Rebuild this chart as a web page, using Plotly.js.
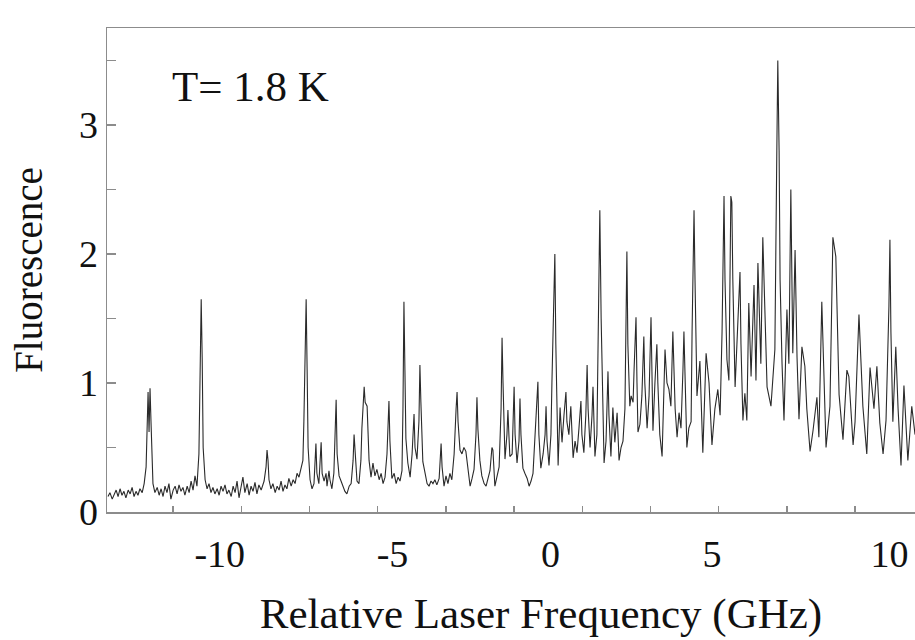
<!DOCTYPE html>
<html>
<head>
<meta charset="utf-8">
<script src="https://cdn.plot.ly/plotly-3.0.1.min.js"></script>
<style>
  html, body { margin: 0; padding: 0; background: #ffffff; overflow: hidden; }
  #chart { width: 975px; height: 640px; }
</style>
</head>
<body>
<div id="chart"></div>
<script>
// Relative laser frequency (GHz)
const freq = [
  -13.53,-13.47,-13.40,-13.34,-13.28,-13.22,-13.16,-13.10,-13.04,-12.98,
  -12.91,-12.85,-12.79,-12.73,-12.67,-12.61,-12.55,-12.48,-12.42,-12.36,
  -12.33,-12.30,-12.27,-12.24,-12.21,-12.18,-12.15,-12.09,-12.02,-11.96,
  -11.90,-11.84,-11.78,-11.72,-11.66,-11.60,-11.53,-11.47,-11.41,-11.35,
  -11.29,-11.23,-11.17,-11.10,-11.04,-10.98,-10.92,-10.86,-10.80,-10.74,
  -10.71,-10.67,-10.64,-10.61,-10.55,-10.49,-10.43,-10.37,-10.31,-10.25,
  -10.18,-10.12,-10.06,-10.00,-9.94,-9.88,-9.82,-9.75,-9.69,-9.63,
  -9.57,-9.51,-9.45,-9.39,-9.33,-9.26,-9.20,-9.14,-9.08,-9.02,
  -8.96,-8.90,-8.83,-8.74,-8.68,-8.65,-8.62,-8.59,-8.53,-8.47,
  -8.40,-8.34,-8.28,-8.22,-8.16,-8.10,-8.04,-7.98,-7.91,-7.85,
  -7.79,-7.73,-7.67,-7.61,-7.55,-7.52,-7.48,-7.45,-7.42,-7.39,
  -7.33,-7.27,-7.21,-7.15,-7.12,-7.06,-6.99,-6.96,-6.90,-6.84,
  -6.81,-6.75,-6.72,-6.66,-6.60,-6.53,-6.50,-6.44,-6.38,-6.32,
  -6.26,-6.20,-6.13,-6.07,-6.01,-5.98,-5.95,-5.89,-5.83,-5.77,
  -5.74,-5.67,-5.64,-5.58,-5.52,-5.46,-5.40,-5.34,-5.28,-5.21,
  -5.15,-5.09,-5.03,-4.97,-4.91,-4.88,-4.82,-4.75,-4.69,-4.63,
  -4.57,-4.51,-4.48,-4.45,-4.42,-4.39,-4.33,-4.26,-4.20,-4.14,
  -4.11,-4.05,-3.99,-3.96,-3.93,-3.87,-3.80,-3.74,-3.68,-3.62,
  -3.56,-3.50,-3.44,-3.37,-3.31,-3.28,-3.22,-3.16,-3.10,-3.04,
  -2.98,-2.91,-2.85,-2.82,-2.79,-2.73,-2.67,-2.61,-2.55,-2.48,
  -2.42,-2.36,-2.30,-2.24,-2.21,-2.18,-2.12,-2.06,-1.99,-1.93,
  -1.87,-1.81,-1.75,-1.72,-1.66,-1.60,-1.53,-1.47,-1.44,-1.41,
  -1.35,-1.29,-1.26,-1.23,-1.20,-1.13,-1.07,-1.04,-0.98,-0.92,
  -0.89,-0.86,-0.80,-0.74,-0.67,-0.61,-0.55,-0.49,-0.43,-0.37,
  -0.34,-0.31,-0.25,-0.18,-0.12,-0.09,-0.06,0.00,0.06,0.09,
  0.12,0.18,0.21,0.25,0.28,0.34,0.40,0.46,0.52,0.55,
  0.61,0.67,0.74,0.80,0.86,0.92,0.98,1.01,1.07,1.13,
  1.17,1.20,1.26,1.32,1.35,1.38,1.41,1.47,1.50,1.53,
  1.56,1.60,1.66,1.69,1.75,1.81,1.84,1.90,1.96,2.02,
  2.09,2.15,2.21,2.27,2.33,2.36,2.39,2.42,2.48,2.52,
  2.58,2.61,2.67,2.70,2.73,2.79,2.85,2.91,2.94,3.01,
  3.07,3.13,3.16,3.19,3.25,3.31,3.34,3.40,3.47,3.53,
  3.56,3.62,3.68,3.74,3.80,3.87,3.93,3.99,4.05,4.11,
  4.14,4.20,4.23,4.29,4.36,4.39,4.42,4.45,4.48,4.54,
  4.63,4.72,4.82,4.91,5.00,5.09,5.18,5.25,5.31,5.34,
  5.37,5.40,5.46,5.52,5.55,5.58,5.61,5.64,5.71,5.77,
  5.86,5.89,5.95,6.01,6.07,6.13,6.20,6.29,6.35,6.41,
  6.50,6.56,6.63,6.69,6.81,6.93,6.99,7.02,7.06,7.09,
  7.15,7.21,7.30,7.36,7.42,7.48,7.55,7.61,7.67,7.76,
  7.85,7.91,8.01,8.10,8.22,8.28,8.37,8.50,8.62,8.71,
  8.80,8.90,9.02,9.14,9.20,9.33,9.39,9.51,9.63,9.75,
  9.85,9.97,10.06,10.15,10.25,10.34,10.43,10.46,10.49,10.55,
  10.64,10.71,10.80,10.89,11.01,11.13,11.23
];
// Fluorescence (arb. units)
const fluor = [
  0.12,0.15,0.10,0.14,0.17,0.12,0.18,0.13,0.16,0.11,
  0.17,0.14,0.19,0.12,0.16,0.13,0.18,0.15,0.22,0.35,
  0.65,0.93,0.62,0.96,0.70,0.35,0.22,0.15,0.19,0.13,
  0.18,0.12,0.20,0.15,0.22,0.10,0.17,0.20,0.14,0.21,
  0.16,0.19,0.13,0.20,0.15,0.24,0.17,0.28,0.20,0.45,
  1.10,1.65,1.20,0.50,0.25,0.18,0.22,0.15,0.19,0.14,
  0.18,0.13,0.20,0.16,0.21,0.14,0.17,0.12,0.20,0.15,
  0.24,0.11,0.19,0.27,0.15,0.22,0.13,0.20,0.16,0.23,
  0.14,0.21,0.17,0.24,0.35,0.48,0.40,0.25,0.18,0.22,
  0.15,0.20,0.17,0.24,0.16,0.21,0.18,0.26,0.20,0.25,
  0.22,0.30,0.27,0.33,0.40,0.70,1.30,1.65,1.10,0.50,
  0.25,0.18,0.22,0.53,0.30,0.22,0.54,0.30,0.24,0.30,
  0.20,0.32,0.25,0.18,0.30,0.87,0.45,0.28,0.24,0.19,
  0.16,0.14,0.20,0.22,0.40,0.60,0.45,0.24,0.22,0.40,
  0.65,0.97,0.85,0.82,0.40,0.27,0.38,0.28,0.33,0.25,
  0.30,0.22,0.27,0.45,0.86,0.55,0.26,0.30,0.22,0.27,
  0.24,0.32,0.80,1.63,1.10,0.57,0.38,0.27,0.45,0.76,
  0.50,0.41,0.70,1.14,0.85,0.39,0.30,0.22,0.20,0.24,
  0.22,0.25,0.21,0.26,0.53,0.35,0.20,0.28,0.22,0.30,
  0.25,0.45,0.80,0.93,0.70,0.48,0.45,0.50,0.47,0.30,
  0.20,0.26,0.33,0.60,0.89,0.64,0.40,0.28,0.22,0.20,
  0.26,0.32,0.50,0.48,0.20,0.28,0.35,0.80,1.35,1.00,
  0.41,0.60,0.79,0.60,0.43,0.45,0.97,0.60,0.38,0.55,
  0.88,0.60,0.34,0.30,0.26,0.20,0.24,0.30,0.55,0.80,
  1.01,0.60,0.34,0.45,0.60,0.82,0.55,0.36,0.60,1.00,
  1.40,2.00,1.30,0.60,0.36,0.81,0.54,0.75,0.93,0.70,
  0.60,0.82,0.42,0.55,0.46,0.65,0.86,0.60,0.46,0.75,
  1.14,0.80,0.50,0.75,0.97,0.70,0.43,0.60,1.20,1.90,
  2.34,1.50,0.60,0.38,0.55,1.09,0.75,0.43,0.81,0.54,
  0.77,0.40,0.50,0.55,0.80,1.50,2.02,1.30,0.82,0.90,
  0.85,1.10,1.51,1.00,0.62,0.68,0.90,1.36,1.00,0.65,
  0.90,1.51,1.00,0.63,1.00,1.30,1.00,0.60,0.43,0.90,
  1.26,1.00,0.95,0.82,1.40,0.80,0.58,0.77,0.65,1.10,
  1.40,0.80,0.50,0.65,0.70,1.40,2.00,2.34,1.80,0.90,
  1.17,0.46,1.23,1.00,0.52,0.80,0.95,0.75,1.40,2.10,
  2.45,1.80,1.18,1.02,1.80,2.45,2.40,1.80,0.97,1.33,
  1.86,1.30,0.71,0.92,0.71,1.62,1.05,1.76,1.02,1.93,
  1.15,2.13,1.40,0.97,0.82,1.26,2.80,3.50,2.80,1.80,
  1.15,0.71,1.57,1.15,2.50,1.23,2.03,1.20,0.72,1.28,
  1.13,0.80,0.47,0.63,0.89,0.58,1.63,0.50,0.82,2.13,
  1.98,0.91,0.56,1.10,1.05,0.52,0.70,1.53,0.82,0.45,
  1.12,0.80,1.13,0.69,0.45,0.71,1.60,2.11,1.40,0.70,
  1.28,0.80,0.36,0.98,0.40,0.82,0.60
];
// Axis tick labels
const xTickText = ['-10', '-5', '0', '5', '10'];
const xTickPos  = [-10.1, -4.8, 0.05, 5.0, 10.45];
const yTickVals = [0, 1, 2, 3];
const yTickText = ['0', '1', '2', '3'];

const serif = 'Liberation Serif, Times New Roman, serif';
const axisGray = '#8c8c8c';

const trace = {
  x: freq,
  y: fluor,
  type: 'scatter',
  mode: 'lines',
  line: { color: '#2a2a2a', width: 1.1 },
  hoverinfo: 'x+y',
  showlegend: false
};

const layout = {
  width: 975,
  height: 640,
  margin: { l: 107, r: 0, t: 28, b: 128 },
  paper_bgcolor: '#ffffff',
  plot_bgcolor: '#ffffff',
  font: { family: serif, color: '#111111', size: 38 },
  showlegend: false,
  xaxis: {
    range: [-13.56, 13.07],
    showgrid: false,
    zeroline: false,
    showline: true,
    linecolor: axisGray,
    linewidth: 1.5,
    mirror: true,
    tickmode: 'array',
    tickvals: xTickPos,
    ticktext: xTickText,
    ticks: '',
    ticklabelstandoff: 8,
    tickfont: { family: serif, size: 38, color: '#111111' },
    minor: {
      tickmode: 'linear',
      tick0: -11.53,
      dtick: 2.092,
      ticks: 'inside',
      ticklen: 6,
      tickwidth: 1.5,
      tickcolor: axisGray,
      showgrid: false
    },
    title: {
      text: 'Relative Laser Frequency (GHz)',
      font: { family: serif, size: 43, color: '#111111' },
      standoff: 24
    }
  },
  yaxis: {
    range: [0, 3.752],
    showgrid: false,
    zeroline: false,
    showline: true,
    linecolor: axisGray,
    linewidth: 1.5,
    mirror: true,
    tickmode: 'array',
    tickvals: yTickVals,
    ticktext: yTickText,
    ticks: 'inside',
    ticklen: 9,
    tickwidth: 1.5,
    tickcolor: axisGray,
    tickfont: { family: serif, size: 38, color: '#111111' },
    minor: {
      tickmode: 'linear',
      tick0: 0.5,
      dtick: 1,
      ticks: 'inside',
      ticklen: 9,
      tickwidth: 1.5,
      tickcolor: axisGray,
      showgrid: false
    },
    title: {
      text: 'Fluorescence',
      font: { family: serif, size: 39, color: '#111111' },
      standoff: 24
    }
  },
  annotations: [{
    x: -9.17,
    y: 3.30,
    xref: 'x',
    yref: 'y',
    text: 'T= 1.8 K',
    showarrow: false,
    font: { family: serif, size: 43, color: '#111111' },
    xanchor: 'center',
    yanchor: 'middle'
  }]
};

Plotly.newPlot('chart', [trace], layout, { displayModeBar: false, staticPlot: true });
</script>
</body>
</html>
